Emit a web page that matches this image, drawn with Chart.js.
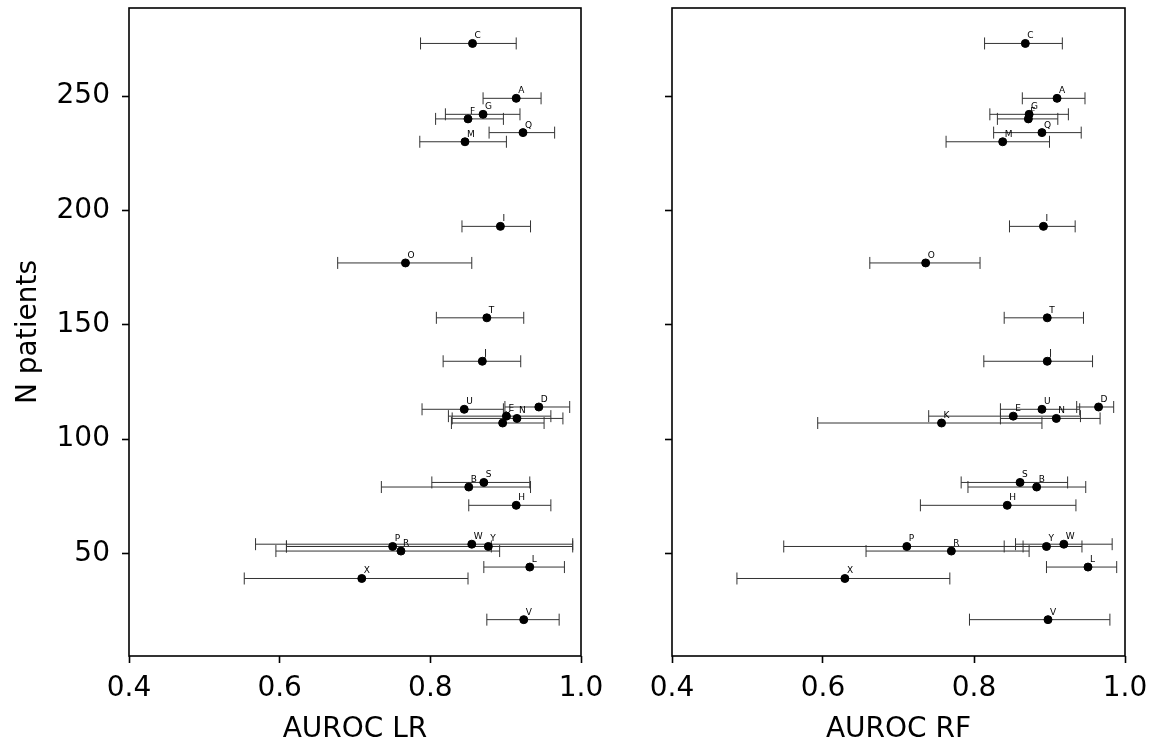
<!DOCTYPE html>
<html>
<head>
<meta charset="utf-8">
<script src="https://cdn.jsdelivr.net/npm/chart.js@4.4.0/dist/chart.umd.min.js"></script>
<style>
  body { margin: 0; background: #fff; }
  #wrap { position: relative; width: 1156px; height: 747px; }
  canvas { position: absolute; top: 0; }
  #lrChart { left: 0; }
  #rfChart { left: 620px; }
</style>
</head>
<body>
<div id="wrap">
  <canvas id="lrChart" width="620" height="747"></canvas>
  <canvas id="rfChart" width="536" height="747"></canvas>
</div>
<script>
// données
const cohorts = ['A','B','C','D','E','F','G','H','I','J','K','L','M','N','O','P','Q','R','S','T','U','V','W','X','Y'];
const nPatients = [249, 79, 273, 114, 110, 240, 242, 71, 193, 134, 107, 44, 230, 109, 177, 53, 234, 51, 81, 153, 113, 21, 54, 39, 53];

const lrAuc = [0.914, 0.851, 0.856, 0.944, 0.901, 0.850, 0.870, 0.914, 0.893, 0.869, 0.896, 0.932, 0.846, 0.915, 0.767, 0.750, 0.923, 0.761, 0.871, 0.875, 0.845, 0.924, 0.855, 0.709, 0.877];
const lrLow = [0.870, 0.735, 0.787, 0.899, 0.824, 0.807, 0.820, 0.851, 0.842, 0.817, 0.828, 0.871, 0.786, 0.829, 0.677, 0.609, 0.878, 0.595, 0.802, 0.808, 0.789, 0.875, 0.568, 0.553, 0.609];
const lrHigh = [0.947, 0.933, 0.914, 0.985, 0.960, 0.897, 0.919, 0.960, 0.933, 0.920, 0.951, 0.978, 0.901, 0.976, 0.855, 0.881, 0.965, 0.892, 0.932, 0.924, 0.897, 0.971, 0.989, 0.850, 0.989];

const rfAuc = [0.910, 0.883, 0.868, 0.965, 0.852, 0.872, 0.873, 0.844, 0.892, 0.897, 0.757, 0.951, 0.838, 0.909, 0.736, 0.711, 0.890, 0.770, 0.861, 0.897, 0.890, 0.898, 0.919, 0.629, 0.896];
const rfLow = [0.864, 0.792, 0.814, 0.936, 0.740, 0.831, 0.821, 0.729, 0.847, 0.813, 0.593, 0.896, 0.763, 0.835, 0.662, 0.548, 0.826, 0.657, 0.783, 0.840, 0.835, 0.794, 0.855, 0.486, 0.840];
const rfHigh = [0.947, 0.948, 0.917, 0.985, 0.941, 0.911, 0.925, 0.935, 0.934, 0.957, 0.890, 0.989, 0.900, 0.967, 0.808, 0.865, 0.942, 0.873, 0.924, 0.945, 0.940, 0.980, 0.983, 0.768, 0.943];

const xTicks = [0.4, 0.6, 0.8, 1.0];
const yTicks = [50, 100, 150, 200, 250];

const FONT = 'DejaVu Sans';

// cadre noir autour de la zone de tracé
const framePlugin = {
    id: 'frame',
    afterDraw(chart) {
        const a = chart.chartArea;
        const ctx = chart.ctx;
        ctx.save();
        ctx.strokeStyle = '#000';
        ctx.lineWidth = 1.6;
        ctx.strokeRect(a.left, a.top, a.right - a.left, a.bottom - a.top);
        ctx.restore();
    }
};

// lettres au-dessus de chaque point
const letterPlugin = {
    id: 'letters',
    afterDatasetsDraw(chart) {
        const ctx = chart.ctx;
        const xs = chart.scales.x;
        const ys = chart.scales.y;
        ctx.save();
        ctx.fillStyle = '#000';
        ctx.font = '9px "' + FONT + '"';
        ctx.textAlign = 'left';
        ctx.textBaseline = 'alphabetic';
        chart.data.datasets[0].data.forEach((p, i) => {
            ctx.fillText(cohorts[i], xs.getPixelForValue(p.x) + 2, ys.getPixelForValue(p.y) - 5);
        });
        ctx.restore();
    }
};

function createPanel(canvasId, auc, low, high, xTitle, showYLabels, padRight, yWidth) {
    const datasets = [{
        type: 'scatter',
        data: auc.map((v, i) => ({ x: v, y: nPatients[i] })),
        backgroundColor: '#000',
        borderColor: '#000',
        pointRadius: 4,
        pointHoverRadius: 4,
        order: 0
    }];

    // une barre d'erreur par cohorte
    cohorts.forEach((c, i) => {
        datasets.push({
            type: 'line',
            data: [{ x: low[i], y: nPatients[i] }, { x: high[i], y: nPatients[i] }],
            borderColor: '#333',
            borderWidth: 1,
            pointStyle: 'line',
            pointRotation: 90,
            pointRadius: 6,
            pointHoverRadius: 6,
            pointBorderColor: '#333',
            pointBorderWidth: 1,
            order: 1
        });
    });

    const ctx = document.getElementById(canvasId).getContext('2d');
    return new Chart(ctx, {
        data: { datasets: datasets },
        options: {
            responsive: false,
            animation: false,
            events: [],
            layout: { padding: { left: 0, top: 8, right: padRight, bottom: 0 } },
            plugins: {
                legend: { display: false },
                tooltip: { enabled: false },
                title: { display: false }
            },
            scales: {
                x: {
                    type: 'linear',
                    min: 0.4,
                    max: 1.0,
                    afterFit: s => { s.height = 91; s.paddingLeft = 0; s.paddingRight = 0; },
                    afterBuildTicks: s => { s.ticks = xTicks.map(v => ({ value: v })); },
                    border: { display: false },
                    grid: { drawOnChartArea: false, drawTicks: true, tickLength: 7, tickColor: '#000', tickWidth: 1.6 },
                    ticks: {
                        color: '#000',
                        padding: 9,
                        font: { family: FONT, size: 28 },
                        callback: v => Number(v).toFixed(1)
                    },
                    title: {
                        display: true,
                        text: xTitle,
                        color: '#000',
                        font: { family: FONT, size: 28 },
                        padding: { top: 0, bottom: 0 }
                    }
                },
                y: {
                    type: 'linear',
                    min: 5.1,
                    max: 288.5,
                    afterFit: s => { s.width = yWidth; s.paddingTop = 0; s.paddingBottom = 0; },
                    afterBuildTicks: s => { s.ticks = yTicks.map(v => ({ value: v })); },
                    border: { display: false },
                    grid: { drawOnChartArea: false, drawTicks: true, tickLength: 7, tickColor: '#000', tickWidth: 1.6 },
                    ticks: {
                        display: showYLabels,
                        color: '#000',
                        padding: 12,
                        font: { family: FONT, size: 28 }
                    },
                    title: {
                        display: showYLabels,
                        text: 'N patients',
                        color: '#000',
                        font: { family: FONT, size: 28 },
                        padding: { top: 12, bottom: 0 }
                    }
                }
            }
        },
        plugins: [framePlugin, letterPlugin]
    });
}

createPanel('lrChart', lrAuc, lrLow, lrHigh, 'AUROC LR', true, 39, 129);
createPanel('rfChart', rfAuc, rfLow, rfHigh, 'AUROC RF', false, 31, 52);
</script>
</body>
</html>
